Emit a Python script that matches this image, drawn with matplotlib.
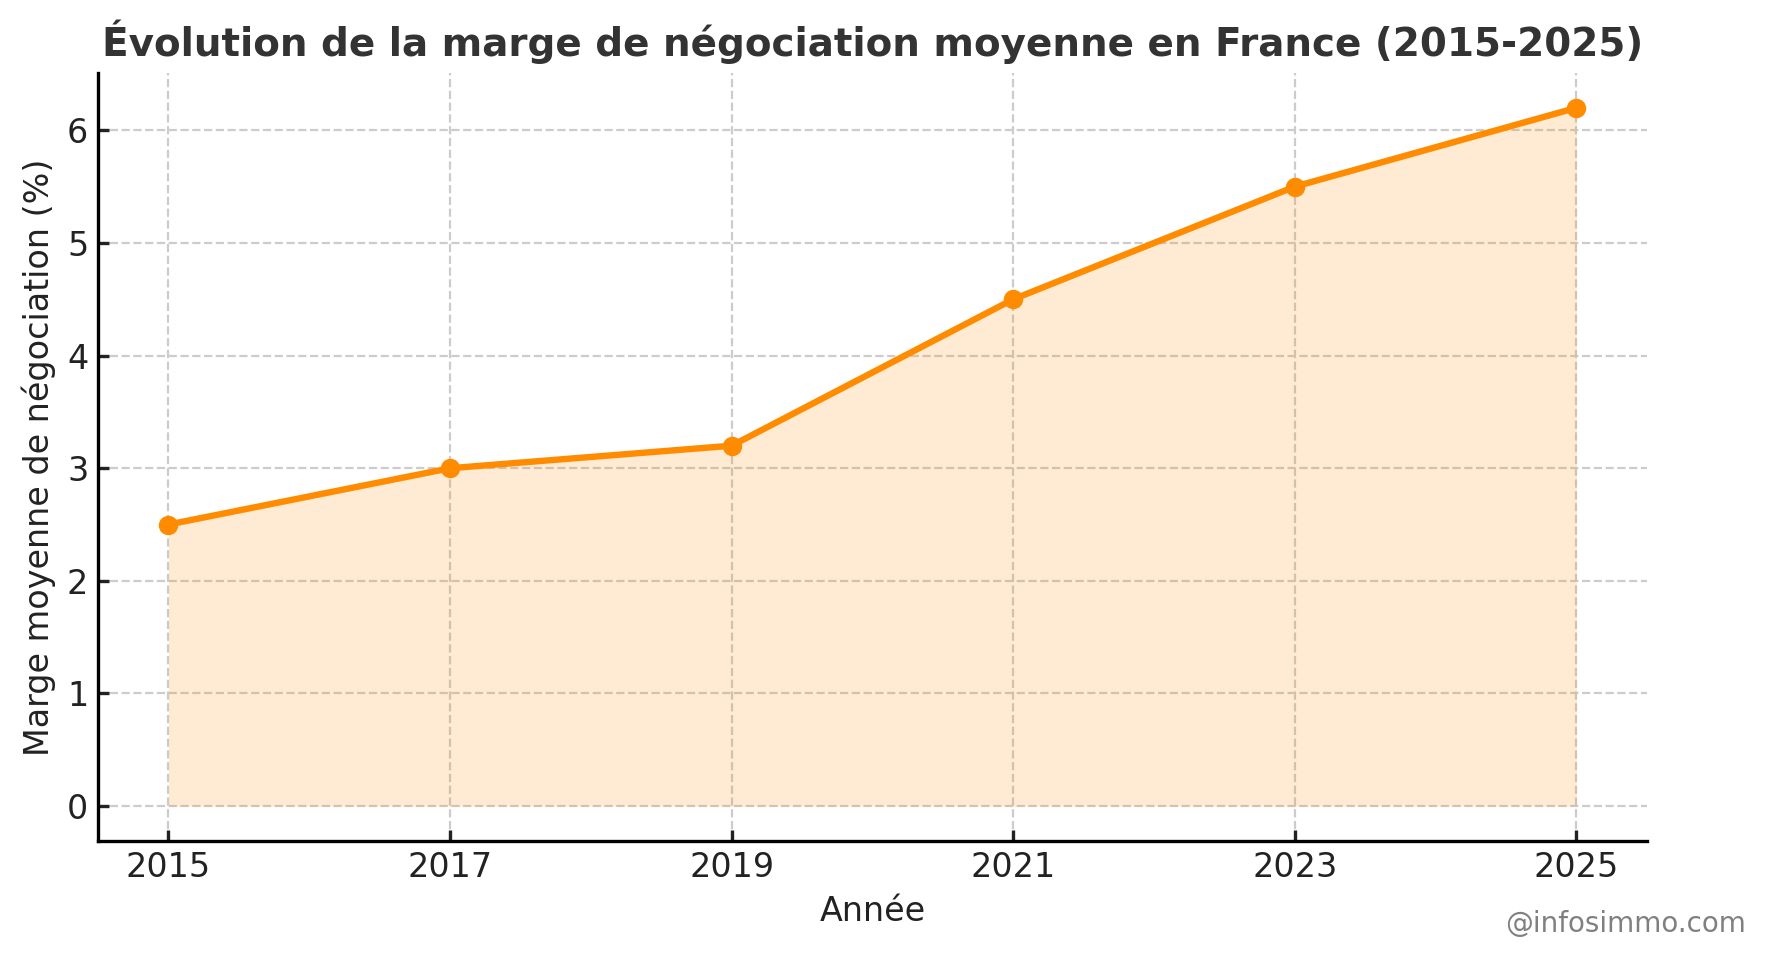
import matplotlib
matplotlib.use("Agg")
import matplotlib.pyplot as plt

years = [2015, 2017, 2019, 2021, 2023, 2025]
marge = [2.5, 3.0, 3.2, 4.5, 5.5, 6.2]

title = "Évolution de la marge de négociation moyenne en France (2015-2025)"
xlabel = "Année"
ylabel = "Marge moyenne de négociation (%)"
watermark = "@infosimmo.com"

plt.rcParams['font.family'] = ['DejaVu Sans']
fig = plt.figure(figsize=(8.83, 4.795), dpi=200)
ax = fig.add_axes([0.0555, 0.123, 0.877, 0.801])

color = "#FF8C00"
ax.fill_between(years, marge, 0, color=color, alpha=0.17, linewidth=0)
ax.plot(years, marge, color=color, linewidth=2.3, marker='o', markersize=6)

ax.set_xticks(years)
ax.set_yticks(range(0, 7))
ax.grid(True, linestyle='--', color='#cccccc', linewidth=0.8)
ax.set_axisbelow(True)
ax.spines['top'].set_visible(False)
ax.spines['right'].set_visible(False)
ax.spines['left'].set_linewidth(1.2)
ax.spines['bottom'].set_linewidth(1.2)
ax.tick_params(direction='in', labelsize=12, colors='#222222', width=1.2, length=4)

ax.set_title(title, fontsize=14, fontweight='bold', color='#333333', pad=6)
ax.set_xlabel(xlabel, fontsize=12, color='#222222')
ax.set_ylabel(ylabel, fontsize=12, color='#222222')

fig.text(0.9885, 0.022, watermark, fontsize=10, color='gray', ha='right', va='bottom')

fig.savefig("out.png", dpi=200)
